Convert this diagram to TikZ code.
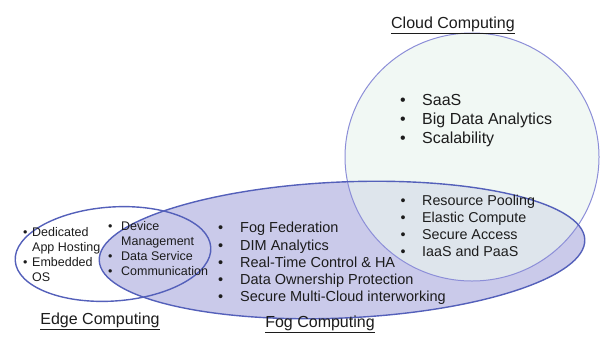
\documentclass[tikz,border=0pt]{standalone}
\usepackage{fontspec}
\setmainfont{Liberation Sans}
\usepackage{xcolor}

\definecolor{fogfill}{RGB}{202,202,234}
\definecolor{fogline}{RGB}{84,96,186}
\definecolor{cloudfill}{RGB}{234,244,238}
\definecolor{cloudline}{RGB}{140,142,216}
\definecolor{txtgray}{RGB}{28,28,28}

% bullet list: width of the bullet column, then rows "bullet & text"
\newcommand{\itemlist}[2]{\begin{tabular}[t]{@{}p{#1}@{}l@{}}#2\end{tabular}}

\begin{document}
\begin{tikzpicture}[x=1pt,y=-1pt,
    lst/.style={anchor=base west,inner sep=0pt,text=txtgray},
    ttl/.style={anchor=base,inner sep=0pt,text=txtgray,font=\fontsize{16}{19}\selectfont}]
        \useasboundingbox (0,0) rectangle (601,338);
        % fog and cloud areas
        \fill[fogfill,rotate around={2.5:(342,250)}] (342,250) ellipse (243 and 68);
        \fill[cloudfill,fill opacity=0.65] (472,157) ellipse (127 and 124);
        \draw[cloudline,line width=1pt] (472,157) ellipse (127 and 124);
        \draw[fogline,line width=1.4pt,rotate around={2.5:(342,250)}] (342,250) ellipse (243 and 68);
        % edge area
        \draw[fogline,line width=1.4pt,rotate around={4:(113,254)}] (113,254) ellipse (98 and 47);

        \node[lst,font=\fontsize{16}{19.2}\selectfont] (cloudtop) at (400,105)
            {\itemlist{22pt}{\textbullet & SaaS\\ \textbullet & Big Data Analytics\\ \textbullet & Scalability}};
        \node[lst,font=\fontsize{14.3}{17.3}\selectfont] (cloudlow) at (400.5,205)
            {\itemlist{21.5pt}{\textbullet & Resource Pooling\\ \textbullet & Elastic Compute\\ \textbullet & Secure Access\\ \textbullet & IaaS and PaaS}};
        \node[lst,font=\fontsize{14.5}{17.3}\selectfont] (foglist) at (218,232.7)
            {\itemlist{22pt}{\textbullet & Fog Federation\\ \textbullet & DIM Analytics\\ \textbullet & Real-Time Control \& HA\\ \textbullet & Data Ownership Protection\\ \textbullet & Secure Multi-Cloud interworking}};
        \node[lst,font=\fontsize{12.5}{15}\selectfont] (edgelist) at (23,236.7)
            {\itemlist{9pt}{\textbullet & Dedicated\\ & App Hosting\\ \textbullet & Embedded\\ & OS}};
        \node[lst,font=\fontsize{12.5}{15}\selectfont] (devlist) at (108,230.7)
            {\itemlist{13pt}{\textbullet & Device\\ & Management\\ \textbullet & Data Service\\ \textbullet & Communication}};

        \node[ttl] (cloudttl) at (453,28) {\underline{Cloud Computing}};
        \node[ttl] (edgettl) at (100,324) {\underline{Edge Computing}};
        \node[ttl] (fogttl) at (320,327) {\underline{Fog Computing}};
    \end{tikzpicture}
\end{document}
